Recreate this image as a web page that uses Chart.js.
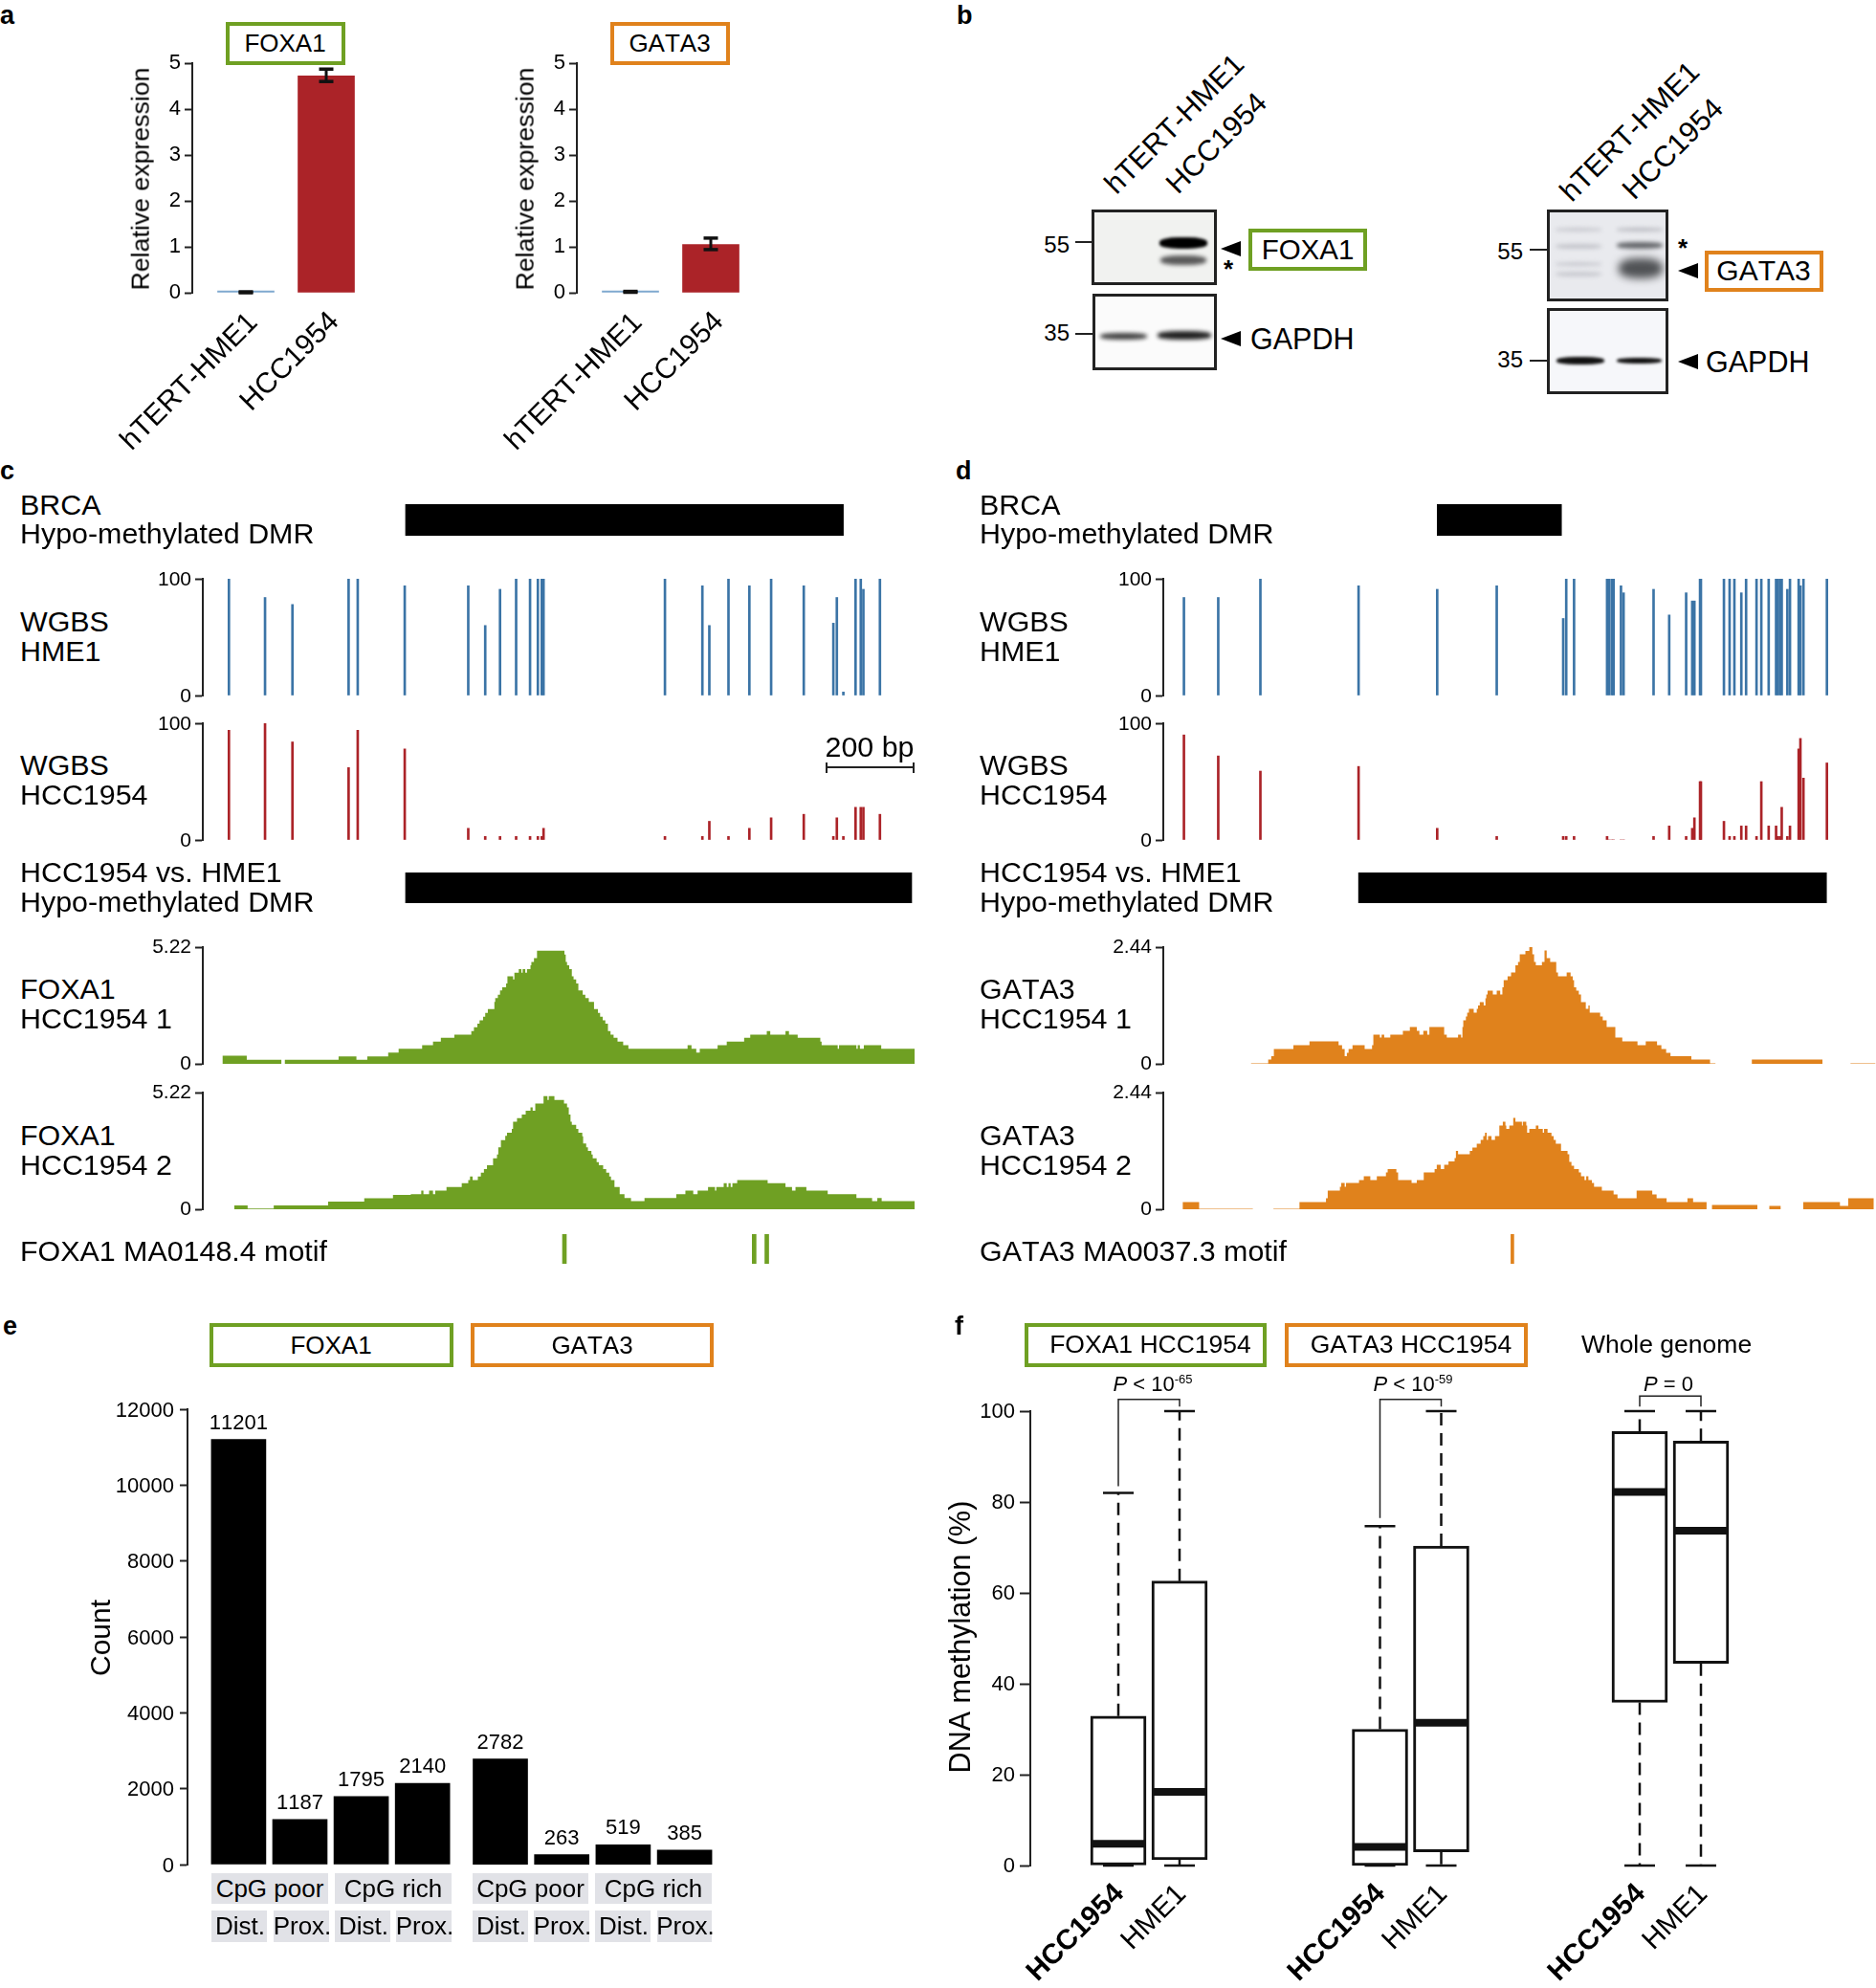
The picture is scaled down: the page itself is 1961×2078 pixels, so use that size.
<!DOCTYPE html>
<html>
<head>
<meta charset="utf-8">
<title>FOXA1 GATA3 HCC1954</title>
<script src="https://cdn.jsdelivr.net/npm/chart.js@4/dist/chart.umd.js"></script>
<style>
  html, body { margin: 0; padding: 0; background: #fff; }
  #page { position: absolute; left: 0; top: 0; width: 1961px; height: 2078px; overflow: hidden; font-family: "Liberation Sans", Arial, sans-serif; color: #000; font-kerning: none; }
  #page canvas { position: absolute; }
  .t { position: absolute; white-space: nowrap; line-height: 1; }
  .box { position: absolute; box-sizing: border-box; background: #fff; }
  .blot { position: absolute; box-sizing: border-box; border: 3px solid #222; overflow: hidden; }
  .blot div { position: absolute; }
  .strip { position: absolute; background: #e1e2e7; }
  .tick { position: absolute; background: #222; height: 2px; }
  .arrow { position: absolute; width: 0; height: 0; border-top: 8px solid transparent; border-bottom: 8px solid transparent; border-right: 21px solid #000; }
  sup { font-size: 13px; vertical-align: 8px; line-height: 0; }
</style>
</head>
<body>
<div id="page"></div>
<script>
const GREEN = "#6fa023";
const ORANGE = "#e0821c";
const RED = "#ab2328";
const BLUE = "#3b74a6";

// panel a
const cellLines = ["hTERT-HME1", "HCC1954"];
const foxa1Expr = [0.01, 4.72];
const foxa1ErrLow = [0, 4.6];
const foxa1ErrHigh = [0.02, 4.87];
const gata3Expr = [0.02, 1.05];
const gata3ErrLow = [0.01, 0.94];
const gata3ErrHigh = [0.03, 1.19];

// panel c, positions in bp from first CpG
const cCpg = [0, 83, 146, 275, 296, 404, 550, 589, 623, 660, 692, 710, 719, 723, 1002, 1088, 1104, 1148, 1196, 1246, 1321, 1389, 1397, 1412, 1440, 1452, 1458, 1496];
const cHme1 = [100, 84, 78, 100, 100, 94, 94, 60, 91, 100, 100, 100, 100, 100, 100, 94, 60, 100, 94, 100, 94, 62, 84, 3, 100, 100, 91, 100];
const cHcc = [94, 100, 84, 62, 94, 78, 10, 3, 3, 3, 3, 3, 3, 10, 3, 3, 16, 3, 10, 19, 22, 3, 19, 3, 28, 28, 28, 22];
const cBrcaDmr = [406, 1412];
const cCellDmr = [406, 1569];
const cMotif = [771, 1207, 1236];

// coverage steps: each value holds until the next position, null is a gap
const foxaRep1Pos = [-15, 41, 121, 121, 128, 252, 293, 318, 366, 390, 444, 469, 487, 518, 557, 563, 571, 576, 584, 589, 595, 610, 612, 618, 623, 628, 637, 640, 653, 656, 666, 672, 675, 681, 685, 693, 695, 701, 708, 771, 774, 777, 782, 788, 792, 798, 803, 813, 819, 827, 839, 848, 853, 859, 865, 871, 877, 884, 893, 906, 918, 1054, 1063, 1074, 1082, 1123, 1144, 1184, 1198, 1236, 1244, 1279, 1287, 1307, 1359, 1362, 1399, 1402, 1442, 1445, 1450, 1459, 1499, 1576];
const foxaRep1Val = [.36, .18, .18, null, .18, .33, .18, .33, .5, .67, .83, 1, 1.17, 1.31, 1.47, 1.64, 1.8, 1.95, 2.11, 2.28, 2.45, 2.77, 2.94, 3.09, 3.28, 3.42, 3.59, 3.92, 3.78, 4.08, 4.24, 4.08, 4.24, 4.08, 4.24, 4.41, 4.56, 4.73, 5.06, 4.89, 4.56, 4.41, 4.24, 3.92, 3.78, 3.59, 3.28, 3.09, 2.94, 2.77, 2.45, 2.28, 2.11, 1.95, 1.8, 1.47, 1.31, 1.17, 1, .83, .67, .83, .67, .5, .67, .83, 1, 1.17, 1.31, 1.47, 1.31, 1.47, 1.31, 1.17, 1, .83, .67, .83, .67, .83, .67, .83, .67, .67];
const foxaRep2Pos = [12, 40, 43, 103, 228, 311, 377, 418, 442, 447, 460, 469, 474, 500, 535, 550, 554, 560, 572, 579, 586, 593, 607, 616, 619, 625, 635, 639, 650, 653, 662, 673, 682, 693, 698, 704, 723, 732, 735, 748, 770, 777, 781, 785, 788, 798, 803, 812, 814, 821, 825, 833, 836, 845, 850, 860, 867, 874, 878, 886, 898, 909, 924, 955, 1028, 1049, 1067, 1077, 1101, 1117, 1120, 1137, 1144, 1148, 1153, 1157, 1168, 1238, 1279, 1294, 1302, 1327, 1376, 1442, 1478, 1490, 1500, 1576];
const foxaRep2Val = [.17, .17, .03, .17, .34, .49, .64, .67, .83, .67, .83, .67, .83, 1, 1.17, 1.31, 1.47, 1.31, 1.47, 1.64, 1.8, 1.97, 2.28, 2.45, 2.77, 3.09, 3.28, 3.42, 3.59, 3.92, 4.08, 4.24, 4.41, 4.56, 4.41, 4.73, 5.06, 4.89, 5.06, 4.89, 4.73, 4.56, 4.24, 3.92, 3.78, 3.59, 3.42, 3.26, 2.94, 2.77, 2.61, 2.45, 2.28, 2.11, 1.97, 1.8, 1.64, 1.47, 1.31, 1, .67, .5, .36, .5, .67, .83, .67, .83, 1, .83, 1, 1.17, 1, 1.17, 1, 1.17, 1.31, 1.17, 1, .83, 1, .83, .67, .5, .36, .5, .36, .36];

// panel d
const dCpg = [0, 79, 176, 402, 583, 720, 873, 880, 898, 974, 979, 985, 989, 1006, 1012, 1081, 1117, 1156, 1170, 1175, 1188, 1190, 1243, 1256, 1267, 1283, 1294, 1318, 1329, 1346, 1363, 1367, 1372, 1376, 1389, 1395, 1415, 1419, 1426, 1480];
const dHme1 = [84, 84, 100, 94, 91, 94, 66, 100, 100, 100, 100, 100, 100, 94, 88, 91, 69, 88, 81, 81, 100, 100, 100, 100, 100, 88, 100, 100, 100, 100, 100, 100, 100, 100, 91, 100, 100, 94, 100, 100];
const dHcc = [90, 72, 59, 63, 10, 3, 3, 3, 3, 3, 0, 0, 0, 0, 0, 3, 12, 3, 10, 19, 50, 50, 16, 3, 3, 12, 12, 3, 50, 12, 12, 3, 3, 28, 3, 12, 78, 87, 53, 66];
const dBrcaDmr = [583, 869];
const dCellDmr = [402, 1479];
const dMotif = [756];

const gataRep1Pos = [154, 194, 201, 207, 252, 289, 356, 364, 370, 375, 379, 388, 416, 433, 436, 451, 455, 461, 475, 504, 520, 536, 542, 551, 560, 565, 599, 605, 631, 638, 641, 643, 649, 652, 656, 667, 674, 677, 681, 690, 694, 696, 699, 711, 720, 728, 733, 736, 745, 753, 763, 769, 773, 786, 795, 802, 806, 810, 824, 830, 835, 843, 857, 861, 881, 890, 895, 898, 903, 909, 914, 925, 931, 934, 953, 958, 964, 973, 993, 1009, 1044, 1063, 1089, 1099, 1110, 1120, 1168, 1211, 1224, 1224, 1307, 1470, 1470, 1534, 1592];
const gataRep1Val = [.01, .09, .16, .31, .39, .47, .39, .31, .16, .23, .31, .39, .31, .39, .61, .55, .61, .55, .61, .69, .77, .69, .61, .69, .61, .77, .61, .55, .61, .55, .77, .91, .99, 1.07, 1.15, 1.07, 1.15, 1.22, 1.29, 1.22, 1.37, 1.45, 1.53, 1.45, 1.53, 1.45, 1.6, 1.75, 1.83, 1.91, 2.06, 2.13, 2.29, 2.36, 2.44, 2.29, 2.13, 2.06, 2.13, 2.37, 2.21, 2.13, 1.91, 1.83, 1.91, 1.83, 1.75, 1.6, 1.53, 1.45, 1.29, 1.15, 1.22, 1.07, 1.07, .99, .91, .77, .55, .47, .39, .47, .39, .31, .23, .16, .09, .01, .01, null, .09, .09, null, .01, .01];
const gataRep2Pos = [-3, 34, 35, 159, 159, 206, 266, 327, 331, 359, 362, 370, 373, 403, 414, 429, 444, 465, 469, 489, 493, 524, 536, 552, 577, 582, 591, 599, 609, 623, 626, 631, 658, 664, 674, 683, 689, 693, 697, 700, 708, 716, 722, 726, 734, 740, 742, 749, 758, 763, 778, 780, 788, 790, 795, 810, 816, 826, 829, 837, 846, 851, 856, 868, 883, 887, 892, 898, 909, 914, 922, 926, 931, 939, 944, 962, 989, 998, 1042, 1078, 1088, 1111, 1159, 1172, 1203, 1203, 1215, 1320, 1320, 1347, 1374, 1374, 1425, 1510, 1529, 1540, 1588];
const gataRep2Val = [.15, .15, .01, .01, null, .01, .15, .23, .39, .47, .55, .47, .55, .61, .69, .61, .69, .77, .84, .77, .61, .55, .61, .77, .84, .93, .84, .93, 1, 1.07, 1.22, 1.15, 1.22, 1.29, 1.37, 1.45, 1.53, 1.6, 1.45, 1.53, 1.45, 1.53, 1.53, 1.75, 1.83, 1.75, 1.68, 1.75, 1.91, 1.83, 1.75, 1.83, 1.75, 1.6, 1.68, 1.75, 1.68, 1.6, 1.68, 1.6, 1.53, 1.45, 1.37, 1.22, 1.15, .99, .91, .84, .77, .69, .61, .69, .61, .55, .47, .39, .31, .23, .39, .31, .23, .15, .23, .15, .15, null, .09, .09, null, .07, .07, null, .15, .07, .23, .23, .23];

// panel e
const foxa1Counts = [11201, 1187, 1795, 2140];
const gata3Counts = [2782, 263, 519, 385];
const countTicks = [0, 2000, 4000, 6000, 8000, 10000, 12000];

// panel f: HCC1954 then HME1 for every group
const groupNames = ["FOXA1 HCC1954", "GATA3 HCC1954", "Whole genome"];
const whiskerHigh = [[82, 100], [74.7, 100], [100, 100]];
const boxQ3 = [[32.9, 62.6], [30, 70.3], [95.5, 93.4]];
const boxMedian = [[4.8, 16.2], [4.1, 31.4], [82.2, 73.7]];
const boxQ1 = [[0, 1.3], [0, 3], [35.9, 44.5]];
const whiskerLow = [[0, 0], [0, 0], [0, 0]];
const bracketLeft = [83.5, 76.5, 101];
const bracketTop = [102.6, 102.6, 103.3];
const bracketRight = [101, 101, 101];
const methTicks = [0, 20, 40, 60, 80, 100];

const page = document.getElementById("page");
const M = 90;

function text(str, x, y, size, opts) {
  opts = opts || {};
  const el = document.createElement("div");
  el.className = "t";
  el.innerHTML = str;
  el.style.fontSize = size + "px";
  el.style.left = x + "px";
  el.style.top = y + "px";
  if (opts.bold) el.style.fontWeight = "bold";
  if (opts.color) el.style.color = opts.color;
  const ax = opts.align === "left" ? "0" : opts.align === "right" ? "-100%" : "-50%";
  el.style.transform = "translate(" + ax + ",-50%)" + (opts.rotate ? " rotate(" + opts.rotate + "deg)" : "");
  page.appendChild(el);
}

function colourBox(l, t, r, b, colour, border) {
  const el = document.createElement("div");
  el.className = "box";
  el.style.cssText = "left:" + l + "px;top:" + t + "px;width:" + (r - l) + "px;height:" + (b - t) + "px;border:" + border + "px solid " + colour;
  page.appendChild(el);
}

function strip(l, t, r, b) {
  const el = document.createElement("div");
  el.className = "strip";
  el.style.cssText = "left:" + l + "px;top:" + t + "px;width:" + (r - l) + "px;height:" + (b - t) + "px";
  page.appendChild(el);
}

// numeric x range so that value 1 lands on the first bar centre
function xRange(l, r, first, step) {
  return { min: 1 - (first - l) / step, max: 1 + (r - first) / step };
}

function zip(pos, val) {
  return pos.map((p, i) => ({ x: p, y: val[i] }));
}

// makes a canvas whose plot area is exactly the rect
function place(rect, x, y, datasets, plugins, type) {
  const cv = document.createElement("canvas");
  const w = rect.r - rect.l + 2 * M;
  const h = rect.b - rect.t + 2 * M;
  cv.width = w;
  cv.height = h;
  cv.style.left = (rect.l - M) + "px";
  cv.style.top = (rect.t - M) + "px";
  page.appendChild(cv);
  let yScale = { display: false, min: y ? y.min : 0, max: y ? y.max : 1 };
  if (y && y.ticks) {
    yScale = {
      min: y.min,
      max: y.max,
      afterBuildTicks: s => { s.ticks = y.ticks.map(v => ({ value: v })); },
      afterFit: s => { s.width = M; },
      border: { color: "#222", width: 2 },
      grid: { drawOnChartArea: false, tickLength: y.tickLength || 8, tickColor: "#222", tickWidth: 2 },
      ticks: { autoSkip: false, padding: y.padding || 4, labelOffset: y.labelOffset || 0, color: "#000", font: { family: "Liberation Sans", size: y.size || 22 }, callback: v => String(v) }
    };
  }
  return new Chart(cv, {
    type: type || "bar",
    data: { datasets: datasets },
    plugins: plugins || [],
    options: {
      responsive: false,
      animation: false,
      devicePixelRatio: 1,
      layout: { padding: { top: M, right: M, bottom: M, left: y && y.ticks ? 0 : M } },
      plugins: { legend: { display: false }, tooltip: { enabled: false }, title: { display: false } },
      scales: {
        x: { type: "linear", display: false, offset: false, min: x.min, max: x.max, grid: { display: false } },
        y: yScale
      }
    }
  });
}

// horizontal black DMR bar
function dmrBar(rect, x, range) {
  const cv = document.createElement("canvas");
  cv.width = rect.r - rect.l;
  cv.height = rect.b - rect.t;
  cv.style.left = rect.l + "px";
  cv.style.top = rect.t + "px";
  page.appendChild(cv);
  new Chart(cv, {
    type: "bar",
    data: { labels: ["DMR"], datasets: [{ data: [range], backgroundColor: "#000", categoryPercentage: 1, barPercentage: 1, borderWidth: 0 }] },
    options: {
      indexAxis: "y",
      responsive: false,
      animation: false,
      devicePixelRatio: 1,
      layout: { padding: 0 },
      plugins: { legend: { display: false }, tooltip: { enabled: false } },
      scales: {
        x: { type: "linear", display: false, min: x.min, max: x.max },
        y: { display: false }
      }
    }
  });
}

// ---- panel a
function exprPanel(l, first, values, low, high) {
  const rect = { l: l, r: l + 182, t: 66, b: 306 };
  const pts = values.map((v, i) => ({ x: i + 1, y: v }));
  const ds = [{
    type: "bar", data: pts, grouped: false, barThickness: 59, minBarLength: 2, order: 2,
    backgroundColor: ["#7fa9cf", RED]
  }];
  values.forEach((v, i) => {
    ds.push({
      type: "line", order: 1, clip: false,
      data: [{ x: i + 1, y: low[i] }, { x: i + 1, y: high[i] }],
      borderColor: "#111", borderWidth: 3,
      pointStyle: "line", pointRadius: 7.5, pointBorderWidth: 3.5, pointBorderColor: "#111"
    });
  });
  place(rect, xRange(rect.l, rect.r, first, 84), { min: 0, max: 5, ticks: [0, 1, 2, 3, 4, 5], size: 22 }, ds);
}
exprPanel(201, 257, foxa1Expr, foxa1ErrLow, foxa1ErrHigh);
exprPanel(602.5, 658.5, gata3Expr, gata3ErrLow, gata3ErrHigh);

colourBox(236, 23, 361, 68, GREEN, 4);
colourBox(637.5, 23, 762.5, 68, ORANGE, 4);
text("FOXA1", 298, 45, 26);
text("GATA3", 700, 45, 26);
text("Relative expression", 147, 187, 26.7, { rotate: -90 });
text("Relative expression", 549, 187, 26.7, { rotate: -90 });
text(cellLines[0], 196.5, 398, 30, { rotate: -45 });
text(cellLines[1], 301.5, 377, 30, { rotate: -45 });
text(cellLines[0], 598.5, 398, 30, { rotate: -45 });
text(cellLines[1], 703.5, 377, 30, { rotate: -45 });

// ---- panel b, blots
function blot(l, t, r, b, bg, bands) {
  const el = document.createElement("div");
  el.className = "blot";
  el.style.cssText = "left:" + l + "px;top:" + t + "px;width:" + (r - l) + "px;height:" + (b - t) + "px;background:" + bg;
  bands.forEach(d => {
    const s = document.createElement("div");
    s.style.cssText = "left:" + (d[0] - l - 3) + "px;top:" + (d[1] - t - 3) + "px;width:" + (d[2] - d[0]) + "px;height:" + (d[3] - d[1]) + "px;background:" + d[4] + ";filter:blur(" + d[5] + "px);border-radius:40%";
    el.appendChild(s);
  });
  page.appendChild(el);
}
function tick(l, r, y) {
  const el = document.createElement("div");
  el.className = "tick";
  el.style.cssText = "left:" + l + "px;width:" + (r - l) + "px;top:" + (y - 1) + "px";
  page.appendChild(el);
}
function arrow(l, y) {
  const el = document.createElement("div");
  el.className = "arrow";
  el.style.left = l + "px";
  el.style.top = (y - 8) + "px";
  page.appendChild(el);
}

blot(1141, 219, 1272, 298, "#f1f2f0", [
  [1212, 248, 1262, 260, "#000", 1.5],
  [1213, 267, 1261, 277, "#5a5a5a", 2]
]);
blot(1142, 307, 1272, 387, "#fbfbfb", [
  [1150, 348, 1199, 355, "#444", 2],
  [1210, 346, 1266, 355, "#222", 2]
]);
blot(1617, 219, 1744, 315, "#e9eaee", [
  [1626, 238, 1674, 242, "#c9cad0", 2],
  [1626, 255, 1674, 260, "#c4c5cb", 2],
  [1626, 274, 1674, 278, "#c9cad0", 2],
  [1626, 284, 1674, 289, "#c9cad0", 2],
  [1690, 238, 1738, 242, "#bcbdc3", 2],
  [1690, 253, 1738, 260, "#66686c", 2],
  [1692, 270, 1738, 291, "#505255", 4]
]);
blot(1617, 322, 1744, 412, "#f6f7fa", [
  [1627, 373, 1677, 381, "#111", 1.5],
  [1690, 374, 1737, 380, "#111", 1.5]
]);

text("55", 1118, 256, 24, { align: "right" });
text("35", 1118, 348, 24, { align: "right" });
tick(1124, 1141, 253);
tick(1124, 1142, 349);
arrow(1276, 260);
arrow(1276, 354);
text("*", 1284, 281, 26, { bold: true });
colourBox(1305, 239, 1429, 283, GREEN, 4);
text("FOXA1", 1367, 261, 29.5);
text("GAPDH", 1307, 354, 30.5, { align: "left" });
text(cellLines[0], 1227, 129, 30.5, { rotate: -45 });
text(cellLines[1], 1270.5, 149, 30.5, { rotate: -45 });

text("55", 1592, 263, 24, { align: "right" });
text("35", 1592, 376, 24, { align: "right" });
tick(1599, 1617, 261);
tick(1599, 1617, 377);
arrow(1754, 283);
arrow(1754, 378);
text("*", 1759, 259, 26, { bold: true });
colourBox(1782, 262, 1906, 305, ORANGE, 4);
text("GATA3", 1843.5, 283, 30);
text("GAPDH", 1783, 378, 30.5, { align: "left" });
text(cellLines[0], 1702.5, 136.5, 30.5, { rotate: -45 });
text(cellLines[1], 1747.5, 155, 30.5, { rotate: -45 });

// ---- panels c and d, genome tracks
function cpgBars(rect, x, pos, val, colour) {
  place(rect, x, { min: 0, max: 100, ticks: [0, 100], size: 21, padding: 4, labelOffset: 1 }, [{
    data: zip(pos, val), backgroundColor: colour, barThickness: 2, grouped: false
  }]);
}
function signal(rect, x, pos, val, top, colour) {
  place(rect, x, { min: 0, max: top, ticks: [0, top], size: 21, padding: 4 }, [{
    type: "line", data: zip(pos, val), fill: "origin", backgroundColor: colour,
    borderColor: colour, borderWidth: 0, pointRadius: 0, stepped: true, spanGaps: false
  }], null, "line");
}
function motifBars(rect, x, pos, colour, w) {
  place(rect, x, null, [{
    data: pos.map(p => ({ x: p, y: 1 })), backgroundColor: colour, barThickness: w
  }]);
}

function trackColumn(l, r, x, labelX, d) {
  const span = { l: l, r: r };
  const dmrRect = (t, b) => ({ l: l, r: r, t: t, b: b });
  const S = 30.4;
  dmrBar(dmrRect(527, 560), x, d.brca);
  cpgBars({ ...span, t: 605, b: 727 }, x, d.cpg, d.hme, BLUE);
  cpgBars({ ...span, t: 756, b: 878 }, x, d.cpg, d.hcc, RED);
  dmrBar(dmrRect(912, 944), x, d.cell);
  signal({ ...span, t: 989.5, b: 1111.5 }, x, d.rep1Pos, d.rep1Val, d.top, d.colour);
  signal({ ...span, t: 1141.5, b: 1263.5 }, x, d.rep2Pos, d.rep2Val, d.top, d.colour);
  motifBars({ ...span, t: 1290, b: 1321 }, x, d.motif, d.colour, d.motifW);

  text("BRCA", labelX, 527, S, { align: "left" });
  text("Hypo-methylated DMR", labelX, 557, S, { align: "left" });
  text("WGBS", labelX, 649, S, { align: "left" });
  text("HME1", labelX, 680, S, { align: "left" });
  text("WGBS", labelX, 799, S, { align: "left" });
  text("HCC1954", labelX, 830, S, { align: "left" });
  text("HCC1954 vs. HME1", labelX, 911, S, { align: "left" });
  text("Hypo-methylated DMR", labelX, 942, S, { align: "left" });
  text(d.name, labelX, 1033, S, { align: "left" });
  text("HCC1954 1", labelX, 1064, S, { align: "left" });
  text(d.name, labelX, 1186, S, { align: "left" });
  text("HCC1954 2", labelX, 1217, S, { align: "left" });
  text(d.motifName, labelX, 1307, S, { align: "left" });
}

trackColumn(212, 958, { min: -60, max: 1580 }, 21, {
  name: "FOXA1", motifName: "FOXA1 MA0148.4 motif", top: 5.22, colour: GREEN, motifW: 4,
  brca: cBrcaDmr, cell: cCellDmr, cpg: cCpg, hme: cHme1, hcc: cHcc, motif: cMotif,
  rep1Pos: foxaRep1Pos, rep1Val: foxaRep1Val, rep2Pos: foxaRep2Pos, rep2Val: foxaRep2Val
});
trackColumn(1215.5, 1961, { min: -47.5, max: 1593 }, 1024, {
  name: "GATA3", motifName: "GATA3 MA0037.3 motif", top: 2.44, colour: ORANGE, motifW: 3,
  brca: dBrcaDmr, cell: dCellDmr, cpg: dCpg, hme: dHme1, hcc: dHcc, motif: dMotif,
  rep1Pos: gataRep1Pos, rep1Val: gataRep1Val, rep2Pos: gataRep2Pos, rep2Val: gataRep2Val
});

// 200 bp scale bar
text("200 bp", 909, 780, 30.4);
tick(864, 955, 802);
const capL = document.createElement("div");
capL.className = "tick";
capL.style.cssText = "left:863px;width:2px;height:11px;top:797px";
page.appendChild(capL);
const capR = document.createElement("div");
capR.className = "tick";
capR.style.cssText = "left:954px;width:2px;height:11px;top:797px";
page.appendChild(capR);

// ---- panel e
const countLabels = counts => ({
  id: "countLabels",
  afterDatasetsDraw(chart) {
    const ctx = chart.ctx;
    ctx.save();
    ctx.font = "22px 'Liberation Sans'";
    ctx.fontKerning = "none";
    ctx.fillStyle = "#000";
    ctx.textAlign = "center";
    ctx.textBaseline = "middle";
    chart.getDatasetMeta(0).data.forEach((bar, i) => {
      ctx.fillText(counts[i], bar.x, bar.y - 17);
    });
    ctx.restore();
  }
});
function countPanel(l, r, first, counts, axis) {
  const rect = { l: l, r: r, t: 1473, b: 1949.5 };
  const y = axis ? { min: 0, max: 12000, ticks: countTicks, size: 22, padding: 6, labelOffset: 1.5 } : { min: 0, max: 12000 };
  place(rect, xRange(l, r, first, 64.2), y, [{
    data: counts.map((v, i) => ({ x: i + 1, y: v })), backgroundColor: "#000", barThickness: 57
  }], [countLabels(counts)]);
}
countPanel(195.5, 476, 249, foxa1Counts, true);
countPanel(484, 750, 523, gata3Counts, false);

colourBox(219, 1383, 473.5, 1429, GREEN, 4);
colourBox(492, 1383, 746, 1429, ORANGE, 4);
text("FOXA1", 346, 1406, 26);
text("GATA3", 619, 1406, 26);
text("Count", 104.5, 1711.5, 30, { rotate: -90 });

[[221, 343], [350, 472], [494, 615], [622, 744]].forEach((s, i) => {
  strip(s[0], 1957.5, s[1], 1990);
  text(i % 2 ? "CpG rich" : "CpG poor", (s[0] + s[1]) / 2, 1974, 26);
});
[[221, 279], [286, 344], [350, 408], [414, 472], [494, 552], [558, 616], [622, 680], [687, 744]].forEach((s, i) => {
  strip(s[0], 1996.5, s[1], 2029.5);
  text(i % 2 ? "Prox." : "Dist.", (s[0] + s[1]) / 2 + 1, 2013, 26);
});

// ---- panel f
function boxGroup(g, l, r, first, axis) {
  const rect = { l: l, r: r, t: 1475, b: 1950.5 };
  const ds = [];
  const dash = (x, a, b) => ({
    type: "line", order: 3, clip: false, data: [{ x: x, y: a }, { x: x, y: b }],
    borderColor: "#111", borderWidth: 2.5, borderDash: [13, 8], pointRadius: 0
  });
  [0, 1].forEach(i => {
    const x = i + 1;
    ds.push(dash(x, boxQ3[g][i], whiskerHigh[g][i]));
    ds.push(dash(x, boxQ1[g][i], whiskerLow[g][i]));
    ds.push({
      type: "line", order: 3, clip: false, showLine: false,
      data: [{ x: x, y: whiskerHigh[g][i] }, { x: x, y: whiskerLow[g][i] }],
      pointStyle: "line", pointRadius: 16, pointBorderWidth: 2.5, pointBorderColor: "#111"
    });
    ds.push({
      type: "bar", order: 2, clip: false, grouped: false, barThickness: 58,
      data: [{ x: x, y: [boxQ1[g][i], boxQ3[g][i]] }],
      backgroundColor: "#fff", borderColor: "#111", borderWidth: 3, borderSkipped: false
    });
    ds.push({
      type: "line", order: 1, clip: false, showLine: false,
      data: [{ x: x, y: boxMedian[g][i] }],
      pointStyle: "line", pointRadius: 28, pointBorderWidth: 8, pointBorderColor: "#111"
    });
  });
  ds.push({
    type: "line", order: 1, clip: false,
    data: [{ x: 1, y: bracketLeft[g] }, { x: 1, y: bracketTop[g] }, { x: 2, y: bracketTop[g] }, { x: 2, y: bracketRight[g] }],
    borderColor: "#222", borderWidth: 1.5, pointRadius: 0
  });
  const y = axis ? { min: 0, max: 100, ticks: methTicks, size: 22, tickLength: 11, padding: 5, labelOffset: 1 } : { min: 0, max: 100 };
  place(rect, xRange(l, r, first, 64), y, ds);
}
boxGroup(0, 1077, 1275, 1169, true);
boxGroup(1, 1400, 1550, 1442.5, false);
boxGroup(2, 1670, 1820, 1714, false);

colourBox(1070.5, 1383, 1324, 1429, GREEN, 4);
colourBox(1343, 1383, 1597, 1429, ORANGE, 4);
text(groupNames[0], 1202.5, 1405, 26.5);
text(groupNames[1], 1475, 1405, 26.5);
text(groupNames[2], 1742, 1405, 26.5);
text("<i>P</i> &lt; 10<sup>-65</sup>", 1205, 1447, 22);
text("<i>P</i> &lt; 10<sup>-59</sup>", 1477, 1447, 22);
text("<i>P</i> = 0", 1744, 1447, 22);
text("DNA methylation (%)", 1003, 1711, 30.5, { rotate: -90 });
[1123, 1396, 1667.5].forEach(x => text("HCC1954", x, 2019, 29.5, { rotate: -45, bold: true }));
[1205, 1478, 1750].forEach(x => text("HME1", x, 2003, 29.5, { rotate: -45 }));

// panel letters
text("a", 0, 16, 27, { align: "left", bold: true });
text("b", 1000, 16, 27, { align: "left", bold: true });
text("c", 0, 492, 27, { align: "left", bold: true });
text("d", 999, 492, 27, { align: "left", bold: true });
text("e", 3, 1386, 27, { align: "left", bold: true });
text("f", 998, 1386, 27, { align: "left", bold: true });
</script>
</body>
</html>
